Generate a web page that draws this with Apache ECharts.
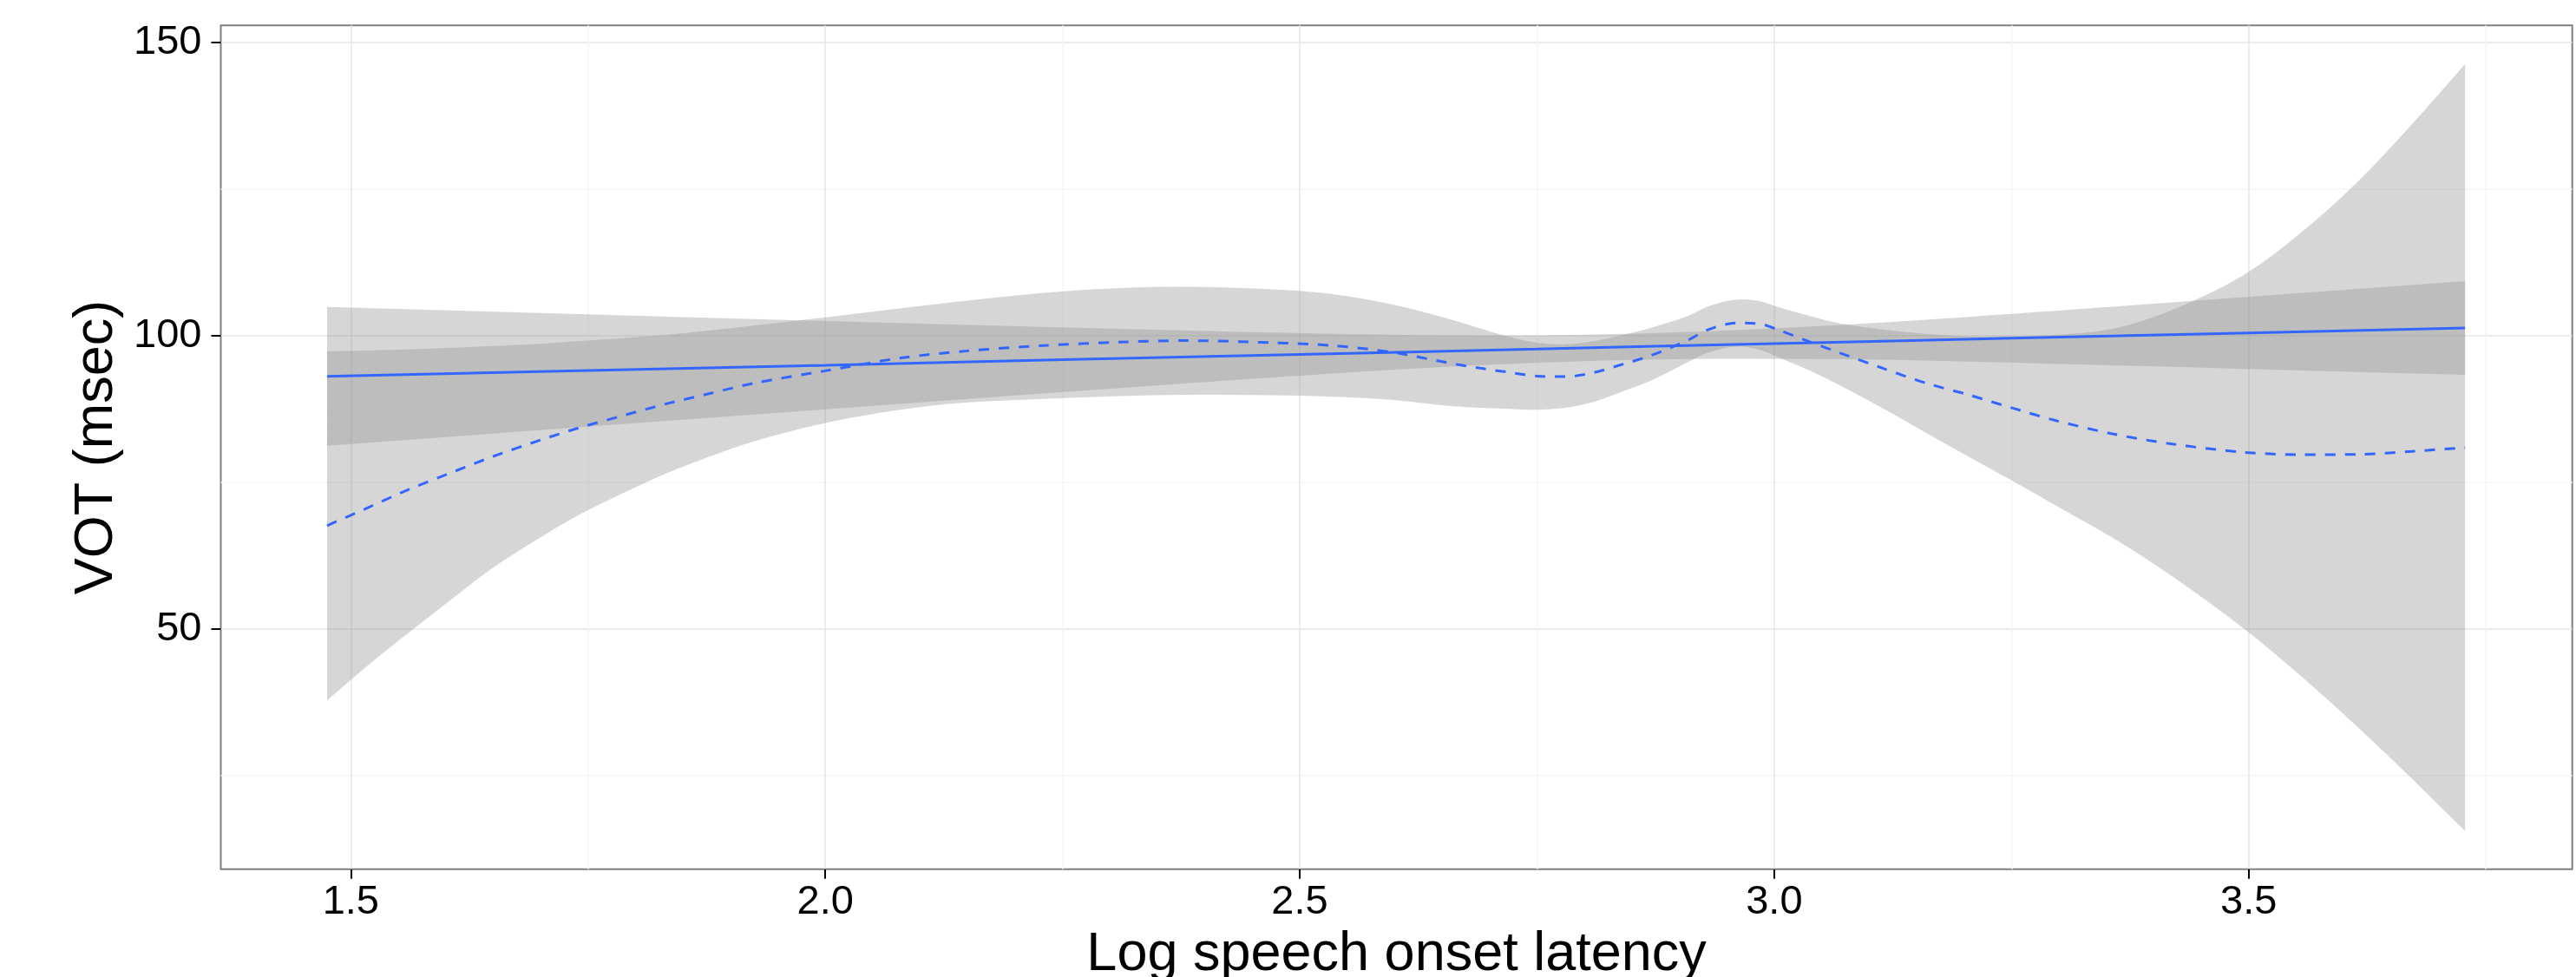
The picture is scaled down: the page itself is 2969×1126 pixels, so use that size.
<!DOCTYPE html>
<html>
<head>
<meta charset="utf-8">
<title>VOT vs log speech onset latency</title>
<script src="https://cdn.jsdelivr.net/npm/echarts@6.0.0/dist/echarts.min.js"></script>
<style>
  html, body { margin: 0; padding: 0; background: #fff; }
  #chartmain { width: 2969px; height: 1126px; }
</style>
</head>
<body>
<div id="chartmain"></div>
<script>
// loess smooth (dashed) with its confidence band
var loessX     = [1.475, 1.52, 1.56, 1.61, 1.65, 1.70, 1.74, 1.79, 1.83, 1.88, 1.925, 2.0, 2.08, 2.15, 2.23, 2.31, 2.38, 2.47, 2.535, 2.6, 2.655, 2.69, 2.72, 2.75, 2.78, 2.81, 2.84, 2.87, 2.91, 2.93, 2.96, 2.985, 3.007, 3.04, 3.07, 3.115, 3.16, 3.205, 3.25, 3.297, 3.358, 3.42, 3.495, 3.556, 3.615, 3.675, 3.728];
var loessFit   = [67.6, 70.8, 73.7, 76.9, 79.4, 82.2, 84.25, 86.5, 88.27, 90.2, 91.9, 94.0, 96.2, 97.4, 98.3, 98.9, 99.15, 98.8, 98.3, 97.1, 95.4, 94.45, 93.75, 93.1, 93.0, 93.7, 95.1, 96.6, 99.3, 101.0, 102.15, 102.0, 100.8, 98.8, 97.0, 94.4, 91.9, 89.9, 87.7, 85.5, 83.2, 81.5, 80.1, 79.7, 79.75, 80.3, 80.9];
var loessUpper = [97.3, 97.45, 97.65, 97.95, 98.2, 98.6, 99.05, 99.6, 100.1, 100.9, 101.7, 103.1, 104.7, 106.0, 107.35, 108.2, 108.4, 107.95, 107.2, 105.3, 103.0, 101.2, 99.8, 98.7, 98.4, 99.0, 100.05, 101.3, 103.3, 105.1, 106.3, 106.0, 104.7, 103.2, 102.0, 101.0, 100.3, 99.8, 99.9, 100.05, 100.9, 104.2, 110.0, 117.5, 126.0, 136.5, 146.3];
var loessLower = [37.8, 44.1, 49.25, 55.5, 60.6, 65.6, 69.5, 73.4, 76.4, 79.5, 82.1, 85.25, 87.5, 88.7, 89.2, 89.7, 89.95, 89.9, 89.6, 89.1, 88.0, 87.7, 87.5, 87.3, 87.6, 88.6, 90.5, 92.2, 95.6, 97.2, 98.3, 97.7, 96.1, 93.9, 91.5, 87.6, 83.4, 79.3, 75.4, 70.95, 65.5, 59.0, 50.2, 41.9, 33.3, 24.0, 15.5];

// linear fit (solid) with its confidence band
var lmX     = [1.475, 1.75, 2.0, 2.25, 2.5, 2.625, 2.75, 2.875, 3.0, 3.125, 3.25, 3.5, 3.728];
var lmFit   = [93.05, 94.05, 94.95, 95.9, 96.8, 97.25, 97.7, 98.2, 98.65, 99.1, 99.55, 100.45, 101.3];
var lmUpper = [104.9, 103.6, 102.5, 101.4, 100.4, 100.05, 100.0, 100.4, 101.2, 102.3, 103.7, 106.6, 109.3];
var lmLower = [81.2, 84.5, 87.4, 90.4, 93.2, 94.45, 95.4, 96.0, 96.1, 95.9, 95.4, 94.3, 93.3];

// axes
var xTicks = [1.5, 2.0, 2.5, 3.0, 3.5];
var yTicks = [50, 100, 150];
var xGridVals = [1.5, 1.75, 2.0, 2.25, 2.5, 2.75, 3.0, 3.25, 3.5, 3.75];
var yGridVals = [25, 50, 75, 100, 125, 150];

var xRange = [1.363, 3.841];
var yRange = [9.0, 152.9];

var fontFam = "'Liberation Sans', Arial, Helvetica, sans-serif";
var bandGrey = 'rgba(153,153,153,0.4)';
var lineBlue = '#3366FF';
var gridMajor = '#e6e6e6';
var gridMinor = '#f6f6f6';

function pairs(xs, ys) {
  return xs.map(function (x, i) { return [x, ys[i]]; });
}

function pt(p) { return p[0].toFixed(2) + ' ' + p[1].toFixed(2); }

// rounded edge through midpoints, ends kept sharp
function edgePath(P) {
  var n = P.length, d = '';
  if (n < 3) { for (var k = 1; k < n; k++) d += ' L ' + pt(P[k]); return d; }
  d += ' L ' + pt([(P[0][0] + P[1][0]) / 2, (P[0][1] + P[1][1]) / 2]);
  for (var i = 1; i < n - 1; i++) {
    var m = [(P[i][0] + P[i + 1][0]) / 2, (P[i][1] + P[i + 1][1]) / 2];
    d += ' Q ' + pt(P[i]) + ' ' + pt(m);
  }
  d += ' L ' + pt(P[n - 1]);
  return d;
}

// confidence ribbon: upper edge left->right, lower edge back, one shape
function bandSeries(name, xs, lo, up) {
  return {
    name: name + '-band', type: 'custom', silent: true,
    data: xs.map(function (x, i) { return [x, lo[i], up[i]]; }),
    encode: { x: 0, y: [1, 2] },
    renderItem: function (params, api) {
      if (params.dataIndex !== 0) return null;
      var U = xs.map(function (x, i) { return api.coord([x, up[i]]); });
      var L = xs.map(function (x, i) { return api.coord([x, lo[i]]); }).reverse();
      var d = 'M ' + pt(U[0]) + edgePath(U) + ' L ' + pt(L[0]) + edgePath(L) + ' Z';
      return {
        type: 'path',
        shape: { pathData: d },
        style: { fill: bandGrey, stroke: null }
      };
    }
  };
}

var series = [
  bandSeries('loess', loessX, loessLower, loessUpper),
  {
    name: 'loess', type: 'line', silent: true, symbol: 'none', smooth: 0.3,
    data: pairs(loessX, loessFit),
    lineStyle: { color: lineBlue, width: 3, type: [12, 11] }
  },
  bandSeries('lm', lmX, lmLower, lmUpper),
  {
    name: 'lm', type: 'line', silent: true, symbol: 'none',
    data: pairs(lmX, lmFit),
    lineStyle: { color: lineBlue, width: 3 }
  }
];

var option = {
  animation: false,
  backgroundColor: '#fff',
  grid: {
    left: 254.5, top: 29.3, right: 4.3, bottom: 124.2,
    show: true, borderColor: '#7f7f7f', borderWidth: 2, backgroundColor: '#fff',
    outerBoundsMode: 'none'
  },
  xAxis: [
    {
      type: 'value', min: xRange[0], max: xRange[1],
      name: 'Log speech onset latency', nameLocation: 'middle', nameGap: 58,
      nameTextStyle: { fontFamily: fontFam, fontSize: 63, color: '#000' },
      axisLine: { show: false },
      axisTick: { show: true, customValues: xTicks, length: 11, lineStyle: { color: '#000', width: 2 } },
      axisLabel: {
        customValues: xTicks, margin: 15, fontFamily: fontFam, fontSize: 47, color: '#000',
        formatter: function (v) { return v.toFixed(1); }
      },
      splitLine: { show: false }
    },
    {
      type: 'value', min: xRange[0], max: xRange[1], position: 'bottom',
      axisLine: { show: false },
      axisTick: { show: false, customValues: xGridVals },
      axisLabel: { show: false, customValues: xGridVals },
      splitLine: { show: true, lineStyle: { color: [gridMajor, gridMinor], width: 1.5 } }
    }
  ],
  yAxis: [
    {
      type: 'value', min: yRange[0], max: yRange[1],
      name: 'VOT (msec)', nameLocation: 'middle', nameGap: 103,
      nameTextStyle: { fontFamily: fontFam, fontSize: 63, color: '#000' },
      axisLine: { show: false },
      axisTick: { show: true, customValues: yTicks, length: 11, lineStyle: { color: '#000', width: 2 } },
      axisLabel: { customValues: yTicks, margin: 22, fontFamily: fontFam, fontSize: 47, color: '#000' },
      splitLine: { show: false }
    },
    {
      type: 'value', min: yRange[0], max: yRange[1], position: 'left',
      axisLine: { show: false },
      axisTick: { show: false, customValues: yGridVals },
      axisLabel: { show: false, customValues: yGridVals },
      splitLine: { show: true, lineStyle: { color: [gridMinor, gridMajor], width: 1.5 } }
    }
  ],
  series: series
};

var chartmain = echarts.init(document.getElementById('chartmain'), null, { renderer: 'canvas' });
chartmain.setOption(option);
</script>
</body>
</html>
